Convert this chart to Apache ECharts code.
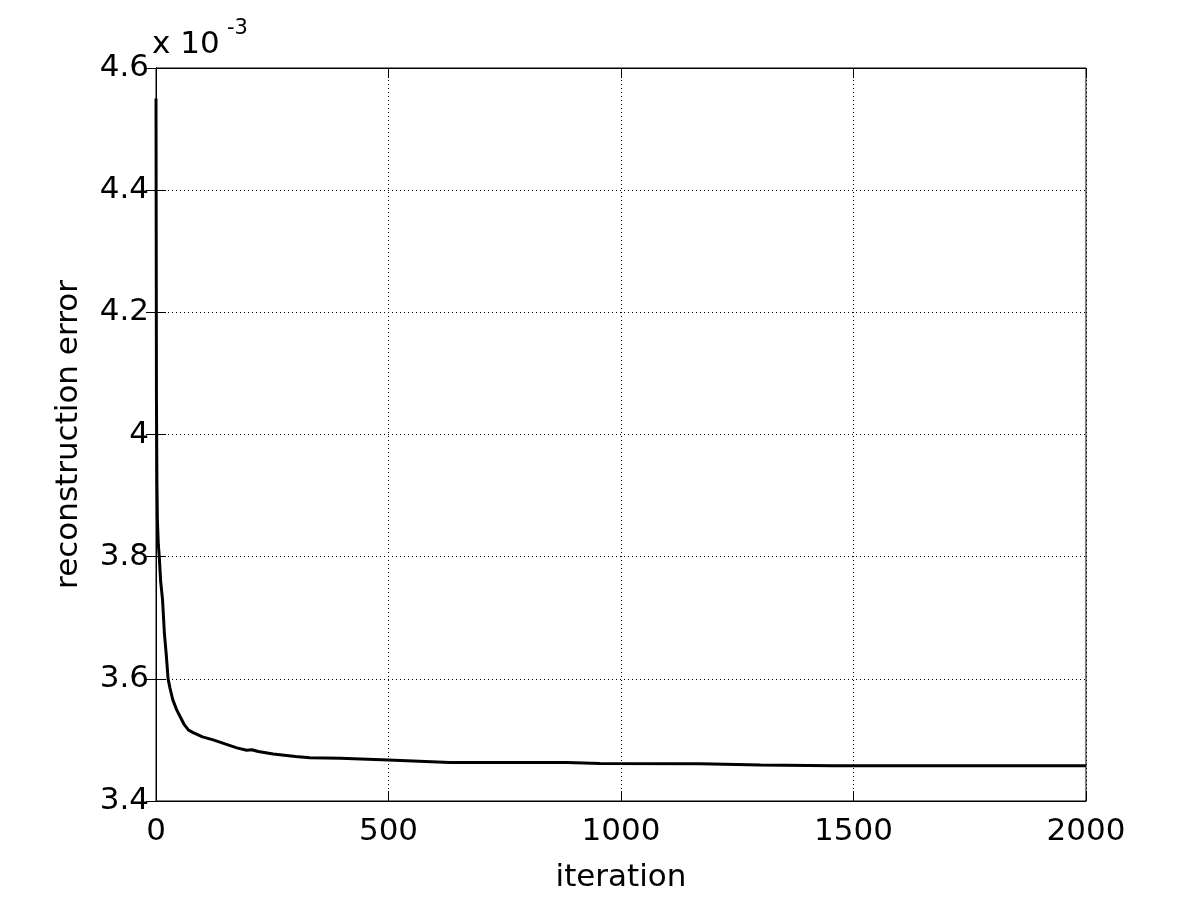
<!DOCTYPE html>
<html>
<head>
<meta charset="utf-8">
<script src="https://cdn.jsdelivr.net/npm/echarts@6/dist/echarts.min.js"></script>
<style>
  html, body { margin: 0; padding: 0; background: #fff; }
  #chart { width: 1200px; height: 901px; }
</style>
</head>
<body>
<div id="chart"></div>
<script>
  // iteration number and reconstruction error (x 10^-3)
  var iterations = [0, 1, 2, 3, 5, 7, 10, 14, 18, 22, 26, 30, 36, 44, 52, 60, 70, 80, 100, 123, 150, 174, 195, 206, 220, 252, 300, 331, 396, 500, 632, 883, 955, 1170, 1300, 1456, 1700, 2000];
  var errors = [4.55, 4.05, 3.92, 3.86, 3.82, 3.80, 3.76, 3.73, 3.675, 3.64, 3.60, 3.585, 3.566, 3.55, 3.538, 3.526, 3.516, 3.512, 3.505, 3.500, 3.493, 3.487, 3.483, 3.484, 3.481, 3.477, 3.473, 3.471, 3.470, 3.467, 3.463, 3.463, 3.4614, 3.461, 3.459, 3.4577, 3.4577, 3.4577];
  var xTicks = [0, 2000, 500];     // min, max, step
  var yTicks = [3.4, 4.6, 0.2];

  var pts = iterations.map(function (it, i) { return [it, errors[i]]; });
  var font = 'DejaVu Sans';
  var fs = 31;
  var dots = { color: '#000', type: [1, 3], width: 1 };
  var tick = { show: true, inside: true, length: 10, lineStyle: { color: '#000' } };

  var myChart = echarts.init(document.getElementById('chart'));
  myChart.setOption({
    animation: false,
    backgroundColor: '#fff',
    grid: {
      left: 156, right: 114, top: 68, bottom: 100,
      show: true, borderColor: '#000', borderWidth: 1
    },
    graphic: [
      { type: 'text', left: 152, top: 29, style: { text: 'x 10', font: fs + 'px ' + font, fill: '#000' } },
      { type: 'text', left: 227, top: 18, style: { text: '-3', font: '21px ' + font, fill: '#000' } }
    ],
    xAxis: [{
      type: 'value',
      min: xTicks[0], max: xTicks[1], interval: xTicks[2],
      name: 'iteration', nameLocation: 'middle', nameGap: 61,
      nameTextStyle: { fontFamily: font, fontSize: fs, color: '#000' },
      axisLine: { show: true, lineStyle: { color: '#000', width: 1 } },
      axisTick: tick,
      axisLabel: { fontFamily: font, fontSize: fs, color: '#000', margin: 15,
        formatter: function (v) { return String(v); } },
      splitLine: { show: true, lineStyle: dots }
    }, {
      type: 'value', position: 'top',
      min: xTicks[0], max: xTicks[1], interval: xTicks[2],
      axisLine: { show: true, lineStyle: { color: '#000' } },
      axisTick: tick,
      axisLabel: { show: false },
      splitLine: { show: false }
    }],
    yAxis: [{
      type: 'value',
      min: yTicks[0], max: yTicks[1], interval: yTicks[2],
      name: 'reconstruction error', nameLocation: 'middle', nameGap: 72,
      nameTextStyle: { fontFamily: font, fontSize: fs, color: '#000' },
      axisLine: { show: true, lineStyle: { color: '#000', width: 1 } },
      axisTick: tick,
      axisLabel: { fontFamily: font, fontSize: fs, color: '#000', margin: 7 },
      splitLine: { show: true, lineStyle: dots }
    }, {
      type: 'value', position: 'right',
      min: yTicks[0], max: yTicks[1], interval: yTicks[2],
      axisLine: { show: true, lineStyle: { color: '#000' } },
      axisTick: tick,
      axisLabel: { show: false },
      splitLine: { show: false }
    }],
    series: [{
      type: 'line',
      data: pts,
      showSymbol: false,
      smooth: false,
      lineStyle: { color: '#000', width: 3 },
      z: 5
    }]
  });
</script>
</body>
</html>
